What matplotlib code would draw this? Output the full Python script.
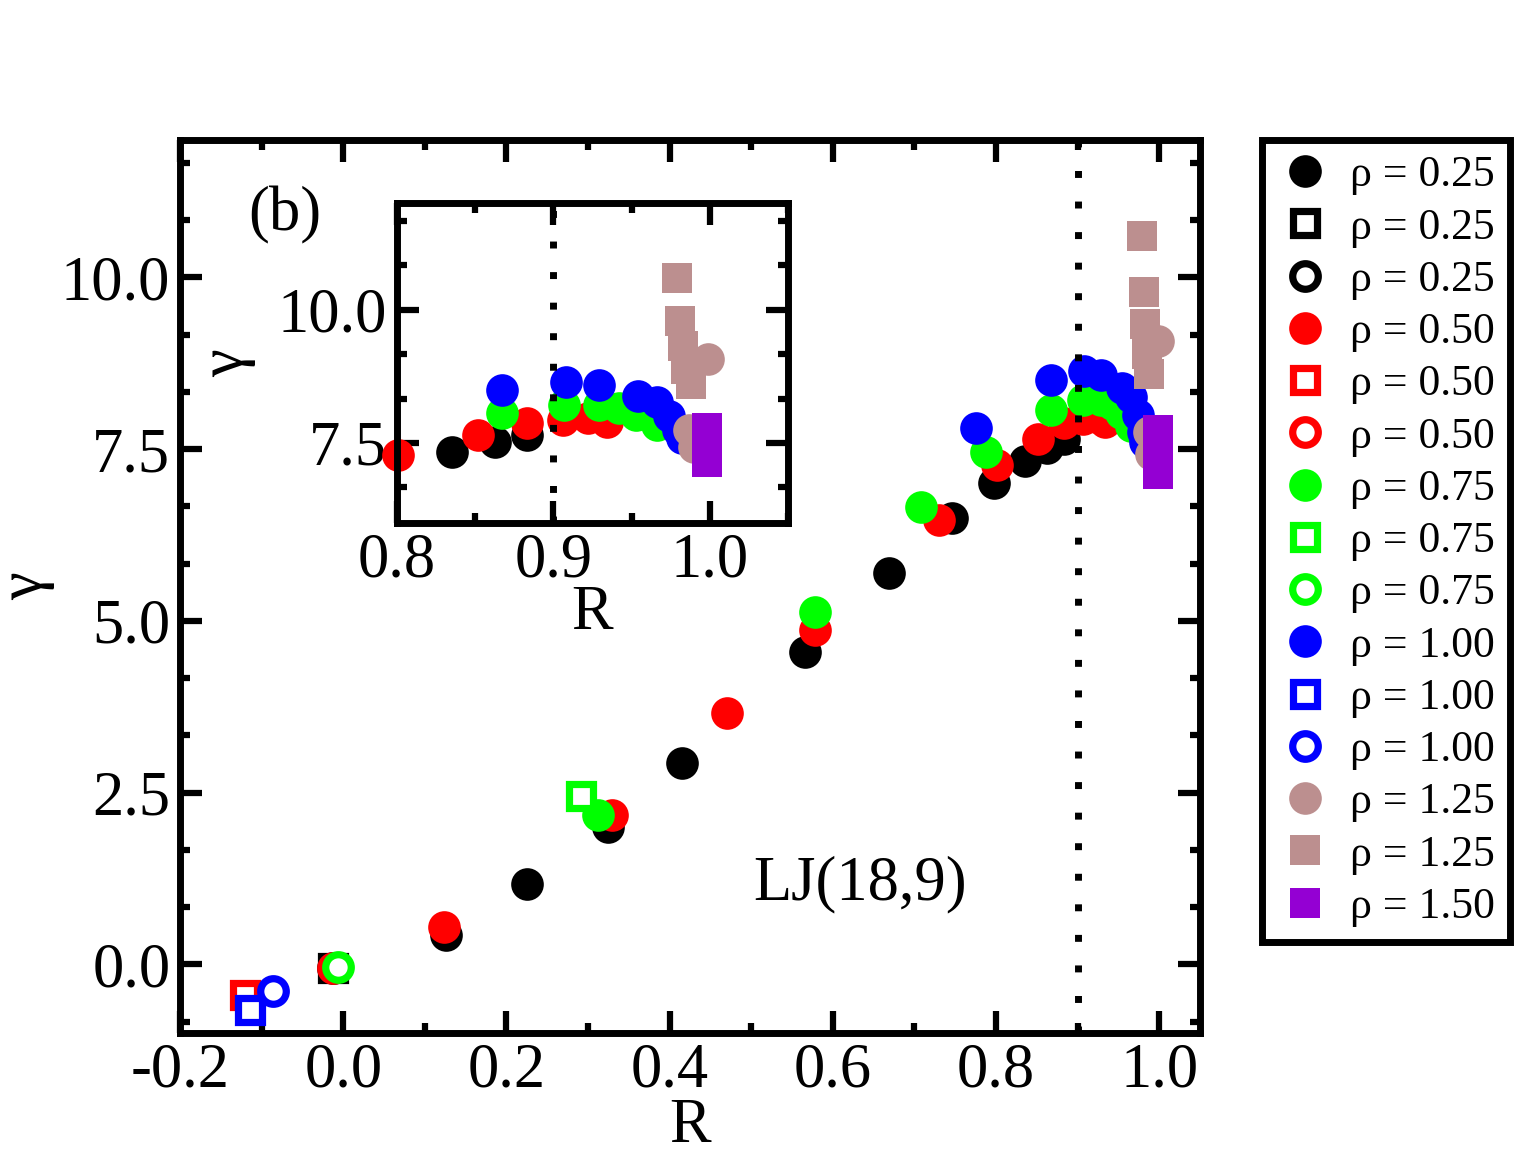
import matplotlib
matplotlib.use("Agg")
import matplotlib.pyplot as plt
from matplotlib.ticker import MultipleLocator, FormatStrFormatter

plt.rcParams['font.family'] = ['Liberation Serif', 'DejaVu Serif']
plt.rcParams['axes.unicode_minus'] = False

# ---- data (R, gamma) ----
r025_fill = [0.126, 0.225, 0.324, 0.415, 0.566, 0.669, 0.746, 0.797, 0.835, 0.863, 0.883]
g025_fill = [0.42, 1.17, 2.00, 2.93, 4.55, 5.70, 6.49, 7.01, 7.33, 7.52, 7.65]
r025_sq = [-0.013]
g025_sq = [-0.06]
r025_oc = [-0.013]
g025_oc = [-0.06]

r050_fill = [0.124, 0.329, 0.470, 0.578, 0.730, 0.801, 0.852, 0.883, 0.906, 0.922, 0.934]
g050_fill = [0.54, 2.17, 3.66, 4.87, 6.47, 7.27, 7.65, 7.88, 7.94, 7.97, 7.90]
r050_sq = [-0.120]
g050_sq = [-0.45]
r050_oc = [-0.012]
g050_oc = [-0.06]

r075_fill = [0.312, 0.578, 0.708, 0.788, 0.867, 0.907, 0.929, 0.942, 0.953, 0.966]
g075_fill = [2.17, 5.13, 6.66, 7.46, 8.07, 8.22, 8.22, 8.16, 8.03, 7.84]
r075_sq = [0.292]
g075_sq = [2.45]
r075_oc = [-0.006]
g075_oc = [-0.04]

r100_fill = [0.776, 0.867, 0.908, 0.929, 0.954, 0.966, 0.974, 0.980, 0.982]
g100_fill = [7.80, 8.50, 8.64, 8.58, 8.39, 8.26, 8.00, 7.75, 7.60]
r100_sq = [-0.114]
g100_sq = [-0.67]
r100_oc = [-0.086]
g100_oc = [-0.39]

r125_fill = [0.987, 0.990, 0.999]
g125_fill = [7.75, 7.43, 9.07]
r125_sq = [0.979, 0.981, 0.983, 0.985, 0.988]
g125_sq = [10.60, 9.79, 9.32, 8.88, 8.60]

r150_sq = [0.998, 0.998, 0.998]
g150_sq = [7.78, 7.45, 7.14]

BLACK, RED, GREEN, BLUE = 'black', '#ff0000', '#00ff00', '#0000ff'
ROSY, PURPLE = '#bc8f8f', '#9400d3'

series = [
    (r025_fill, g025_fill, 'o', BLACK, True, 'ρ = 0.25'),
    (r025_sq, g025_sq, 's', BLACK, False, 'ρ = 0.25'),
    (r025_oc, g025_oc, 'o', BLACK, False, 'ρ = 0.25'),
    (r050_fill, g050_fill, 'o', RED, True, 'ρ = 0.50'),
    (r050_sq, g050_sq, 's', RED, False, 'ρ = 0.50'),
    (r050_oc, g050_oc, 'o', RED, False, 'ρ = 0.50'),
    (r075_fill, g075_fill, 'o', GREEN, True, 'ρ = 0.75'),
    (r075_sq, g075_sq, 's', GREEN, False, 'ρ = 0.75'),
    (r075_oc, g075_oc, 'o', GREEN, False, 'ρ = 0.75'),
    (r100_fill, g100_fill, 'o', BLUE, True, 'ρ = 1.00'),
    (r100_sq, g100_sq, 's', BLUE, False, 'ρ = 1.00'),
    (r100_oc, g100_oc, 'o', BLUE, False, 'ρ = 1.00'),
    (r125_fill, g125_fill, 'o', ROSY, True, 'ρ = 1.25'),
    (r125_sq, g125_sq, 's', ROSY, True, 'ρ = 1.25'),
    (r150_sq, g150_sq, 's', PURPLE, True, 'ρ = 1.50'),
]


def marker_style(marker, color, filled):
    if filled:
        ms = 23.5 if marker == 'o' else 21
        return dict(marker=marker, ms=ms, mfc=color, mec=color, mew=0)
    ms = 18.4 if marker == 'o' else 16.6
    return dict(marker=marker, ms=ms, mfc='white', mec=color, mew=5.2)


def style_axes(ax, xmaj, xmin, ymaj, ymin):
    for sp in ax.spines.values():
        sp.set_linewidth(5)
    ax.xaxis.set_major_locator(MultipleLocator(xmaj))
    ax.xaxis.set_minor_locator(MultipleLocator(xmin))
    ax.yaxis.set_major_locator(MultipleLocator(ymaj))
    ax.yaxis.set_minor_locator(MultipleLocator(ymin))
    ax.xaxis.set_major_formatter(FormatStrFormatter('%.1f'))
    ax.yaxis.set_major_formatter(FormatStrFormatter('%.1f'))
    ax.tick_params(which='both', direction='in', top=True, right=True,
                   width=4.5, labelsize=45, pad=7)
    ax.tick_params(which='major', length=16)
    ax.tick_params(which='minor', length=7)


fig = plt.figure(figsize=(15.15, 11.53), dpi=100)

# main axes
ax = fig.add_axes([0.1188, 0.1041, 0.6733, 0.7745])
handles = []
for r, g, mk, col, filled, lab in series:
    h, = ax.plot(r, g, linestyle='none', label=lab, **marker_style(mk, col, filled))
    handles.append(h)
ax.axvline(0.9, color='black', lw=5, linestyle=(0, (1, 3.4)), zorder=5)
ax.set_xlim(-0.2, 1.05)
ax.set_ylim(-1.0, 12.0)
style_axes(ax, 0.2, 0.1, 2.5, 2.5 / 3)
ax.set_xlabel('R', fontsize=45, labelpad=-2)
ax.set_ylabel('γ', fontsize=45, labelpad=4)
ax.text(0.103, 0.916, '(b)', transform=ax.transAxes, fontsize=45,
        ha='center', va='center')
ax.text(0.667, 0.166, 'LJ(18,9)', transform=ax.transAxes, fontsize=45,
        ha='center', va='center')

# inset: same data, markers kept whole when their centre is inside the box
ins = fig.add_axes([0.2620, 0.5464, 0.2581, 0.2776])
ix0, ix1, iy0, iy1 = 0.8, 1.05, 6.0, 12.0
for r, g, mk, col, filled, lab in series:
    pts = [(a, b) for a, b in zip(r, g) if ix0 <= a <= ix1 and iy0 <= b <= iy1]
    if not pts:
        continue
    ins.plot([p[0] for p in pts], [p[1] for p in pts], linestyle='none',
             clip_on=False, **marker_style(mk, col, filled))
ins.axvline(0.9, color='black', lw=5, linestyle=(0, (1, 3.4)), zorder=5)
ins.set_xlim(ix0, ix1)
ins.set_ylim(iy0, iy1)
style_axes(ins, 0.1, 0.05, 2.5, 2.5 / 3)
ins.set_xlabel('R', fontsize=45, labelpad=-4)
ins.set_ylabel('γ', fontsize=45, labelpad=16)

# legend box on the right
leg = fig.legend(handles=handles, loc='upper left',
                 bbox_to_anchor=(1262 / 1515, 1 - 140 / 1153),
                 fontsize=31.5, frameon=True, fancybox=False, framealpha=1,
                 borderpad=0.35, handlelength=1.25, handletextpad=0.4,
                 labelspacing=0.28, borderaxespad=0, numpoints=1)
leg.get_frame().set_linewidth(5)
leg.get_frame().set_edgecolor('black')

fig.savefig('out.png', dpi=100)
